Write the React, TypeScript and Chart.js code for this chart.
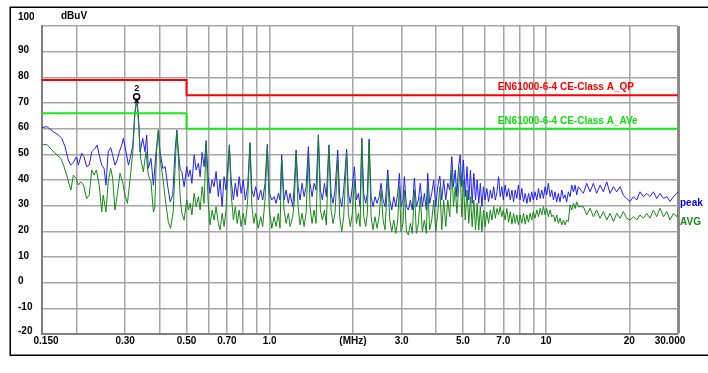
import React, { useEffect, useRef } from "react";
import { Chart, registerables } from "chart.js";

Chart.register(...registerables);

// ---------- Data (MHz / dBuV) ----------
// 0.15 - 0.47 MHz, peak detector
const lowPeakFreq = [
  0.150, 0.1561, 0.1651, 0.1722, 0.1768, 0.1817, 0.1867, 0.1905, 0.1947, 0.2,
  0.203, 0.2089, 0.2129, 0.2176, 0.2223, 0.2269, 0.2333, 0.2377, 0.2417, 0.2467,
  0.2515, 0.2556, 0.2604, 0.2658, 0.2703, 0.2755, 0.2807, 0.2856, 0.2915, 0.2954,
  0.3021, 0.3082, 0.3126, 0.3197, 0.3239, 0.3303, 0.3348, 0.3396, 0.3472, 0.3539,
  0.3588, 0.3636, 0.3719, 0.3794, 0.3881, 0.3955, 0.4011, 0.4106, 0.4187, 0.4268,
  0.4363, 0.4458, 0.4544, 0.4611, 0.4675,
];
const lowPeakLevel = [
  60.4, 60.8, 58.8, 57.5, 56.2, 53, 47.8, 45.8, 46.9, 49,
  45.8, 50.4, 49, 45.2, 45.8, 51, 52.3, 53.6, 49.7, 45.8,
  44.5, 38, 51, 52.6, 49.7, 45.8, 47.8, 51, 53.6, 56.2,
  51, 45.8, 48.4, 53.6, 64, 71.8, 65.3, 51, 56.2, 51,
  57.5, 44.5, 48.4, 38, 51, 59.5, 51, 44.5, 45.2, 38,
  31.5, 34.1, 51, 59.5, 51,
];
// 0.15 - 0.47 MHz, average detector
const lowAvgFreq = [
  0.150, 0.1561, 0.1628, 0.17, 0.1755, 0.1802, 0.1843, 0.1885, 0.1909, 0.1947,
  0.1994, 0.203, 0.2071, 0.2119, 0.2176, 0.2223, 0.2269, 0.2315, 0.236, 0.2417,
  0.2467, 0.2497, 0.2556, 0.2604, 0.2658, 0.2703, 0.2755, 0.2807, 0.2873, 0.2933,
  0.2995, 0.3056, 0.3126, 0.3197, 0.3255, 0.3303, 0.3357, 0.3412, 0.3489, 0.3568,
  0.3636, 0.3719, 0.3794, 0.3836, 0.3895, 0.3955, 0.4011, 0.4106, 0.4187, 0.4294,
  0.4377, 0.4476, 0.4544, 0.4611, 0.4675,
];
const lowAvgLevel = [
  53.6, 53.9, 51.7, 49.7, 48.4, 45.2, 41.9, 38, 36.1, 41.9,
  40.7, 38, 39.3, 38, 32.8, 34.1, 43.9, 41.9, 43.9, 38,
  27.6, 34.1, 27.6, 39.3, 44.5, 40.7, 28.3, 34.1, 42.6, 39.3,
  34.1, 30.9, 40.7, 51, 66.6, 71.2, 61.4, 48.4, 43.2, 51,
  41.9, 39.3, 27.6, 29, 51, 59.5, 48.4, 40.7, 32.8, 23.7,
  21.2, 27.6, 44.5, 58.8, 48.4,
];

// 0.47 - 30 MHz, shared sweep points
const sweepFreq = [
  0.4742, 0.4809, 0.4901, 0.5009, 0.5079, 0.5154, 0.5228, 0.5329, 0.5417, 0.5519,
  0.56, 0.5695, 0.579, 0.5886, 0.5981, 0.6083, 0.6188, 0.6292, 0.6396, 0.6517,
  0.6612, 0.6725, 0.6837, 0.6949, 0.7049, 0.7146, 0.725, 0.739, 0.7506, 0.7628,
  0.7753, 0.7878, 0.8021, 0.8158, 0.8322, 0.848, 0.8618, 0.8757, 0.8897, 0.9092,
  0.9277, 0.9431, 0.9615, 0.9803, 0.9967, 1.0174, 1.0374, 1.0548, 1.0748, 1.0896,
  1.1048, 1.1269, 1.1462, 1.1683, 1.1846, 1.2115, 1.2281, 1.2458, 1.2667, 1.2875,
  1.309, 1.3315, 1.3539, 1.3798, 1.3989, 1.4229, 1.447, 1.4711,
  1.5, 1.525, 1.551, 1.577, 1.603, 1.637, 1.667, 1.695, 1.723, 1.762,
  1.791, 1.822, 1.852, 1.898, 1.925, 1.957, 1.99, 2.024, 2.059, 2.094,
  2.123, 2.153, 2.188, 2.225, 2.256, 2.288, 2.327, 2.365, 2.404, 2.446,
  2.488, 2.529, 2.571, 2.613, 2.674, 2.719, 2.764, 2.81, 2.858, 2.906,
  2.945, 2.986, 3.036, 3.07, 3.122, 3.175, 3.228, 3.28, 3.336, 3.393,
  3.45, 3.506, 3.566, 3.627, 3.687, 3.729, 3.79, 3.857, 3.922, 3.987,
  4.055, 4.123, 4.192, 4.26, 4.334, 4.408, 4.481,
  4.558, 4.623, 4.689, 4.754, 4.82, 4.886, 4.952, 5.02, 5.096, 5.173,
  5.249, 5.324, 5.401, 5.477, 5.553, 5.629, 5.705, 5.781, 5.857, 5.933,
  6.011, 6.101, 6.191, 6.281, 6.371, 6.461, 6.551, 6.641, 6.732, 6.822,
  6.912, 7.002, 7.106, 7.211, 7.315, 7.419, 7.523, 7.627, 7.731, 7.836,
  7.939, 8.049, 8.167, 8.284, 8.401, 8.519, 8.636, 8.754, 8.871, 8.988,
  9.119, 9.252, 9.384, 9.516, 9.648, 9.781, 9.913, 10.05, 10.19, 10.34,
  10.48, 10.63, 10.77, 10.92, 11.07, 11.23, 11.39, 11.55, 11.71, 11.87,
  12.03, 12.21, 12.38, 12.56, 12.73, 12.9, 13.08,
  13.64, 14.02, 14.42, 14.82, 15.24, 15.68, 16.11, 16.57, 17.03, 17.52,
  18, 18.52, 19.02, 19.56, 20.12, 20.7, 21.28, 21.86, 22.48, 23.12,
  23.75, 24.44, 25.13, 25.83, 26.59, 27.34, 28.07, 28.88, 29.7, 30,
];
const sweepPeakLevel = [
  43.9, 43.3, 37.4, 45.2, 41.3, 43.9, 38.7, 49.8, 43.9, 46.5,
  41.3, 50.7, 45.2, 55.4, 41.3, 34.8, 40, 37.4, 43.3, 33.5,
  40, 29.6, 41.3, 36.1, 45.2, 53.7, 40, 32.2, 38.7, 33.5,
  41.3, 34.8, 40, 32.2, 37.4, 54.6, 36.1, 33.5, 37.4, 32.2,
  36.1, 32.2, 38.7, 53.9, 34.8, 32.2, 33.5, 30.9, 34.8, 32.2,
  49.8, 32.2, 36.1, 30.9, 34.8, 29.6, 38.7, 51.7, 37.4, 32.2,
  38.7, 33.5, 37.4, 53, 38.7, 33.5, 38.7, 36.1,
  57.6, 36.1, 32.2, 38.7, 33.5, 53.7, 34.8, 30.9, 36.1, 51.7,
  33.5, 29.6, 36.1, 52, 34.8, 30.9, 37.4, 45.2, 32.2, 34.8,
  29.6, 56.3, 34.8, 30.9, 34.8, 55.9, 33.5, 29.6, 33.5, 30.9,
  33.5, 38.7, 32.2, 29.6, 43.9, 32.2, 28.3, 33.5, 29.6, 34.8,
  42.6, 29.6, 32.2, 41.3, 29.6, 28.3, 32.2, 28.3, 40.7, 29.6,
  32.2, 38.7, 29.6, 34.8, 28.3, 42.6, 30.9, 34.8, 40, 29.6,
  37.4, 41.6, 32.2, 40, 32.2, 38.7, 36.1,
  49.1, 37.4, 43.9, 33.5, 45.2, 49.7, 37.4, 47.8, 33.5, 45.2,
  32.2, 43.9, 30.9, 42.6, 32.2, 40, 30.9, 38.7, 29.6, 37.4,
  32.2, 36.7, 31.5, 36.1, 32.8, 37.4, 32.2, 35.4, 41.3, 33.5,
  37.4, 32.2, 38, 33.5, 36.7, 32.2, 36.1, 31.5, 36.1, 32.8,
  38, 32.2, 36.7, 31.5, 34.8, 30.9, 34.8, 31.5, 35.4, 32.2,
  35.4, 32.2, 36.7, 32.8, 36.1, 32.8, 37.4, 34.2, 38.7, 33.5,
  36.1, 32.2, 35.4, 31.5, 34.8, 31.5, 36.1, 32.8, 34.2, 31.5,
  35.4, 33.5, 38, 35.4, 38, 34.2, 37.4,
  34.8, 38.7, 35.4, 38.7, 34.8, 38, 35.4, 39.3, 34.8, 37.4,
  35.4, 37.4, 34.1, 32.8, 31.6, 33.5, 32.2, 35.4, 33.5, 34.8,
  33.5, 35.4, 32.8, 34.8, 32.8, 33.5, 31.6, 33.5, 34.8, 35.5,
];
const sweepAvgLevel = [
  33.5, 27, 24.4, 32.2, 28.3, 30.9, 26.4, 34.8, 29.6, 33.5,
  28.3, 37.4, 30.9, 54.3, 32.2, 22.5, 28.3, 24.4, 29.6, 23.1,
  20.6, 27, 21.9, 28.3, 41.3, 53, 34.8, 24.4, 29.6, 23.1,
  28.3, 21.9, 27, 22.5, 32.2, 53.7, 29.6, 23.1, 27, 21.2,
  25.7, 21.9, 32.2, 52.4, 28.3, 21.2, 25.7, 21.9, 27, 21.2,
  47.8, 28.3, 23.1, 27, 21.9, 25.7, 32.2, 50.4, 29.6, 22.5,
  27, 21.9, 27, 49.1, 29.6, 23.1, 28.3, 23.1,
  56.9, 28.3, 24.4, 28.3, 22.5, 53, 28.3, 23.1, 27, 47.8,
  25.7, 19.9, 25.7, 50.4, 27, 21.9, 27, 40, 23.1, 27,
  21.9, 55.6, 25.7, 21.9, 27, 55, 25.7, 20.6, 25.7, 21.2,
  25.7, 36.1, 24.4, 20.6, 41.3, 24.4, 19.9, 24.4, 19.2, 24.4,
  37.4, 19.9, 23.1, 36.1, 19.9, 18.6, 23.1, 19.2, 36.1, 19.2,
  23.1, 33.5, 19.9, 24.4, 19.2, 37.4, 20.6, 24.4, 32.2, 19.9,
  27, 37.4, 20.6, 32.2, 21.9, 32.2, 25.7,
  43.9, 29.6, 37.4, 27, 36.1, 45.2, 25.7, 40, 24.4, 36.1,
  23.1, 33.5, 21.8, 32.2, 20.5, 30.9, 20.5, 29.6, 19.9, 28.3,
  21.8, 27.6, 23.1, 28.3, 24.4, 29.6, 25.1, 28.9, 26.4, 29.6,
  25.7, 28.3, 24.4, 28.9, 23.5, 27.6, 22.8, 27, 23.1, 26.4,
  22.5, 26.4, 23.1, 27, 22.8, 26.4, 23.5, 27, 24.4, 27.6,
  25.1, 28.3, 25.7, 28.9, 26.4, 29.6, 26.4, 28.9, 25.7, 28.3,
  25.7, 26.4, 23.8, 26.4, 23.1, 25.1, 22.5, 24.4, 22.5, 24.4,
  23.8, 30.3, 28.3, 30.9, 28.9, 31.5, 29.6,
  29.6, 26.4, 29, 25.7, 28.3, 25.1, 27.7, 24.4, 27, 23.8,
  27, 25.1, 27.7, 25.1, 24.4, 25.7, 24.4, 26.4, 25.1, 27,
  25.1, 28.3, 25.7, 29, 25.7, 27.7, 24.4, 27, 25.7, 27,
];

// Limit lines
const qpLimitFreq = [0.15, 0.5, 0.5, 30];
const qpLimitLevel = [79, 79, 73, 73];
const aveLimitFreq = [0.15, 0.5, 0.5, 30];
const aveLimitLevel = [66, 66, 60, 60];
const qpLimitName = "EN61000-6-4 CE-Class A_QP";
const aveLimitName = "EN61000-6-4 CE-Class A_AVe";
const limitLabelFreq = 6.68;
const qpLabelLevel = 76.3;
const aveLabelLevel = 63;

// Markers at the 0.33 MHz maximum
const markerFreq = [0.33, 0.33];
const markerLevel = [70.8, 72.4];
const markerStyle = ["crossRot", "circle"];

// Axes
const xGridValues = [0.15, 0.2, 0.3, 0.4, 0.5, 0.6, 0.7, 0.8, 0.9, 1, 2, 3, 4, 5, 6, 7, 8, 9, 10, 20, 30];
const xTickValues = [0.15, 0.3, 0.5, 0.7, 1, 2, 3, 5, 7, 10, 20, 30];
const xTickLabels = ["0.150", "0.30", "0.50", "0.70", "1.0", "(MHz)", "3.0", "5.0", "7.0", "10", "20", "30.000"];
const yTickValues = [100, 90, 80, 70, 60, 50, 40, 30, 20, 10, 0, -10, -20];
const yUnit = "dBuV";
const peakName = "peak";
const avgName = "AVG";

const W = 708;
const H = 373;
const FONT = 'bold 10px "Liberation Sans", Arial, sans-serif';

const pairs = (xs: number[], ys: number[]) => xs.map((x, i) => ({ x, y: ys[i] }));

const overlayPlugin = {
  id: "overlay",
  afterDraw(chart: any) {
    const { ctx, chartArea } = chart;
    const xs = chart.scales.x;
    const ys = chart.scales.y;
    ctx.save();
    // outer frame
    ctx.strokeStyle = "#000";
    ctx.lineWidth = 1.5;
    ctx.beginPath();
    ctx.moveTo(W, 7.25);
    ctx.lineTo(10.25, 7.25);
    ctx.lineTo(10.25, 355.25);
    ctx.lineTo(W, 355.25);
    ctx.stroke();

    ctx.font = FONT;
    ctx.fillStyle = "#000";
    ctx.textBaseline = "middle";
    ctx.textAlign = "left";
    yTickValues.forEach((v) => {
      const off = v === 100 ? 9 : v === -20 ? 3 : 1;
      ctx.fillText(String(v), 18, ys.getPixelForValue(v) - off);
    });
    ctx.fillText(yUnit, 61, 16);

    ctx.textAlign = "center";
    xTickValues.forEach((v, i) => {
      let x = xs.getPixelForValue(v);
      if (i === 0) x += 4;
      if (i === xTickValues.length - 1) x -= 8;
      ctx.fillText(xTickLabels[i], x, chartArea.bottom + 7);
    });

    ctx.textAlign = "left";
    ctx.fillStyle = "#ff0000";
    ctx.fillText(qpLimitName, xs.getPixelForValue(limitLabelFreq), ys.getPixelForValue(qpLabelLevel));
    ctx.fillStyle = "#10e010";
    ctx.fillText(aveLimitName, xs.getPixelForValue(limitLabelFreq), ys.getPixelForValue(aveLabelLevel));

    ctx.fillStyle = "#0000ff";
    ctx.fillText(peakName, chartArea.right + 2, ys.getPixelForValue(31));
    ctx.fillStyle = "#158a15";
    ctx.fillText(avgName, chartArea.right + 2, ys.getPixelForValue(23.6));

    ctx.fillStyle = "#000";
    ctx.font = 'bold 9px "Liberation Sans", Arial, sans-serif';
    ctx.textAlign = "center";
    ctx.fillText("2", xs.getPixelForValue(0.33), ys.getPixelForValue(75.6));
    ctx.restore();
  },
};

export default function App() {
  const ref = useRef<HTMLCanvasElement | null>(null);

  useEffect(() => {
    if (!ref.current) return;
    const chart = new Chart(ref.current, {
      type: "line",
      data: {
        datasets: [
          {
            type: "scatter",
            label: "markers",
            data: pairs(markerFreq, markerLevel),
            pointStyle: markerStyle as any,
            pointRadius: 3,
            borderColor: "#000",
            backgroundColor: "rgba(0,0,0,0)",
            borderWidth: 1.5,
            order: 0,
          } as any,
          {
            label: qpLimitName,
            data: pairs(qpLimitFreq, qpLimitLevel),
            borderColor: "#ff0000",
            borderWidth: 2,
            pointRadius: 0,
            tension: 0,
            order: 1,
          },
          {
            label: aveLimitName,
            data: pairs(aveLimitFreq, aveLimitLevel),
            borderColor: "#18e818",
            borderWidth: 2,
            pointRadius: 0,
            tension: 0,
            order: 1,
          },
          {
            label: avgName,
            data: pairs([...lowAvgFreq, ...sweepFreq], [...lowAvgLevel, ...sweepAvgLevel]),
            borderColor: "#168816",
            borderWidth: 1,
            borderJoinStyle: "bevel",
            pointRadius: 0,
            tension: 0,
            order: 2,
          },
          {
            label: peakName,
            data: pairs([...lowPeakFreq, ...sweepFreq], [...lowPeakLevel, ...sweepPeakLevel]),
            borderColor: "#2020ff",
            borderWidth: 1,
            borderJoinStyle: "bevel",
            pointRadius: 0,
            tension: 0,
            order: 3,
          },
        ],
      },
      options: {
        responsive: false,
        animation: false,
        devicePixelRatio: 1,
        layout: { padding: { left: 42, right: 30, top: 26, bottom: 39 } },
        plugins: { legend: { display: false }, tooltip: { enabled: false } },
        scales: {
          x: {
            type: "logarithmic",
            min: 0.15,
            max: 30,
            afterBuildTicks: (s: any) => {
              s.ticks = xGridValues.map((value) => ({ value }));
            },
            afterFit: (s: any) => {
              s.height = 0;
            },
            ticks: { display: false },
            grid: {
              drawTicks: false,
              color: (c: any) => (c.tick && c.tick.value === 30 ? "#8c8c8c" : "#a6a6a6"),
              lineWidth: (c: any) => (c.tick && c.tick.value === 30 ? 3 : 1.5),
            },
            border: { display: true, color: "#808080", width: 2 },
          },
          y: {
            min: -20,
            max: 100,
            afterBuildTicks: (s: any) => {
              s.ticks = yTickValues.map((value) => ({ value }));
            },
            afterFit: (s: any) => {
              s.width = 0;
            },
            ticks: { display: false },
            grid: { drawTicks: false, color: "#a6a6a6", lineWidth: 1.5 },
            border: { display: true, color: "#808080", width: 2 },
          },
        },
      },
      plugins: [overlayPlugin],
    });
    return () => chart.destroy();
  }, []);

  return (
    <div style={{ position: "absolute", left: 0, top: 0, width: W, height: H, background: "#fff" }}>
      <canvas ref={ref} width={W} height={H} style={{ display: "block", width: W, height: H }} />
    </div>
  );
}
